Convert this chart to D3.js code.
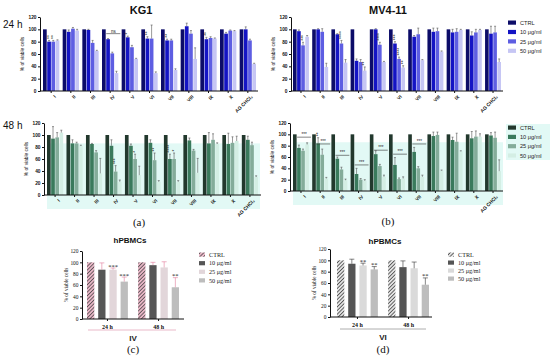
<!DOCTYPE html>
<html>
<head>
<meta charset="utf-8">
<script src="https://cdn.jsdelivr.net/npm/d3@7"></script>
<style>
  body { margin: 0; background: #fff; }
  svg { display: block; font-family: Arial, "Liberation Sans", sans-serif; }
</style>
</head>
<body>
<svg id="fig" width="550" height="358"></svg>
<script>
// ---- data ----
var groups = ['I', 'II', 'III', 'IV', 'V', 'VI', 'VII', 'VIII', 'IX', 'X', 'AG CHCl\u2083']
var doses = ['CTRL', '10 \u03bcg/ml', '25 \u03bcg/ml', '50 \u03bcg/ml']
var yTicks = [0, 20, 40, 60, 80, 100, 120]

// % viable cells, per group: [CTRL, 10, 25, 50]
var kg1_24 = [[100,80,80,82],[100,96,101,98],[100,99,78,65],[100,84,61,29],[100,87,71,52],[100,85,85,29],[100,82,82,34],[100,105,93,52],[100,84,86,85],[100,93,98,97],[100,100,82,44]]
var kg1_24_err = [[0,2,2,1],[0,3,2,2],[0,1,4,1],[0,1,2,3],[0,2,3,1],[0,3,22,2],[0,2,2,2],[0,5,5,18],[0,3,2,1],[0,2,1,1],[0,4,2,1]]
var kg1_48 = [[100,94,96,104],[100,86,86,82],[100,85,71,36],[100,82,39,22],[100,82,60,33],[100,87,58,22],[100,60,60,22],[100,91,74,37],[100,86,92,85],[100,85,87,90],[100,92,83,30]]
var kg1_48_err = [[0,20,8,4],[0,6,2,1],[0,1,3,25],[0,10,10,3],[0,3,8,15],[0,5,12,2],[0,8,10,2],[0,4,2,24],[0,18,10,2],[0,18,10,8],[0,6,5,2]]

var mv_24 = [[100,97,74,88],[100,100,96,39],[100,92,77,46],[100,49,47,33],[100,100,75,47],[100,77,52,38],[100,88,92,50],[100,96,97,64],[100,95,96,99],[100,90,95,99],[100,93,95,47]]
var mv_24_err = [[0,2,5,2],[0,1,5,6],[0,1,5,5],[0,3,4,6],[0,1,4,1],[0,3,3,3],[0,2,10,1],[0,6,5,1],[0,5,5,1],[0,6,5,1],[0,12,10,5]]
var mv_48 = [[100,76,71,82],[100,84,64,22],[100,57,38,19],[100,30,20,18],[100,65,44,25],[100,46,21,22],[100,69,40,25],[100,97,99,36],[100,90,87,70],[100,93,96,96],[100,98,94,35]]
var mv_48_err = [[0,5,3,3],[0,10,10,2],[0,3,4,2],[0,10,2,2],[0,6,3,3],[0,13,2,3],[0,8,3,3],[0,7,5,1],[0,5,15,1],[0,12,10,5],[0,5,10,20]]

// significance marks: [group, dose, label]
var kg1_24_sig = [[0,1,'**'],[0,2,'**'],[4,1,'*'],[5,1,'**'],[6,1,'**'],[8,1,'**']]
var kg1_48_sig = [[3,2,'***'],[4,2,'*'],[5,2,'**'],[6,1,'****'],[6,2,'*']]
var mv_24_sig = [[0,2,'***'],[2,2,'****'],[3,3,'**'],[4,2,'****'],[5,1,'***'],[5,2,'****'],[5,3,'**']]
var mv_48_sig = [[1,1,'**']]
// brackets over the 10..50 bars: [group, level, label]
var kg1_24_ns = [[3, 93, 'ns']]
var mv_48_brackets = [[0,95,'***'],[1,83,'***'],[2,63,'***'],[3,46,'***'],[4,72,'***'],[5,65,'***'],[6,83,'***']]

// hPBMCs panels
var times = ['24 h', '48 h']
var pbmc_iv = [[100,87,87,66],[100,95,91,56]]
var pbmc_iv_err = [[0,12,3,8],[0,5,10,17]]
var pbmc_iv_sig = [[0,2,'***'],[0,3,'***'],[1,3,'**']]
var pbmc_vi = [[100,94,91,84],[100,88,86,57]]
var pbmc_vi_err = [[0,8,4,5],[0,11,11,12]]
var pbmc_vi_sig = [[0,2,'**'],[0,3,'**'],[1,3,'**']]

var blues = ['#0c0c68', '#1414c4', '#5e5ee2', '#c6c6f4']
var greens = ['#22382d', '#3a7a5c', '#84ac9a', '#d4eee4']

var SANS = 'Arial, "Liberation Sans", sans-serif'
var SERIF = '"Liberation Serif", "Times New Roman", serif'

var svg = d3.select('#fig')
var defs = svg.append('defs')

function hatch(id, bg, fg) {
  var p = defs.append('pattern').attr('id', id)
    .attr('width', 2.6).attr('height', 2.6)
    .attr('patternUnits', 'userSpaceOnUse')
    .attr('patternTransform', 'rotate(45)')
  p.append('rect').attr('width', 2.6).attr('height', 2.6).attr('fill', bg)
  p.append('line').attr('x1', 0).attr('y1', 0).attr('x2', 0).attr('y2', 2.6)
    .attr('stroke', fg).attr('stroke-width', 1.4)
}
hatch('hatchC', '#e9b7c7', '#3a3a3a')
hatch('hatchD', '#e4e4e4', '#2e2e2e')

function panel(o) {
  var g = svg.append('g')
  var font = o.serif ? SERIF : SANS
  var y = d3.scaleLinear().domain([0, 120]).range([o.y0, o.y120])
  var x = d3.scaleBand().domain(o.groups).range([o.xa, o.xb]).paddingInner(o.pad)
  var xi = d3.scaleBand().domain(d3.range(4)).range([0, x.bandwidth()]).paddingInner(o.ipad)

  if (o.bg) {
    g.append('rect')
      .attr('x', o.xa).attr('y', y(86))
      .attr('width', o.xb - o.xa + 2).attr('height', o.y0 + 14 - y(86))
      .attr('fill', o.bg)
  }

  var tops = []
  o.groups.forEach(function(grp, gi) {
    tops[gi] = []
    o.vals[gi].forEach(function(v, di) {
      var bx = x(grp) + xi(di), bw = xi.bandwidth()
      g.append('rect')
        .attr('x', bx).attr('y', y(v))
        .attr('width', bw).attr('height', o.y0 - y(v))
        .attr('fill', o.colors[di])
      var e = o.errs[gi][di]
      tops[gi][di] = v + e
      if (e) {
        var cx = bx + bw / 2
        g.append('line').attr('x1', cx).attr('x2', cx)
          .attr('y1', y(v)).attr('y2', y(v + e))
          .attr('stroke', o.errColor || '#555').attr('stroke-width', 0.6)
        g.append('line').attr('x1', cx - o.cap).attr('x2', cx + o.cap)
          .attr('y1', y(v + e)).attr('y2', y(v + e))
          .attr('stroke', o.errColor || '#555').attr('stroke-width', 0.6)
      }
    })
  })

  // stars
  ;(o.sig || []).forEach(function(s) {
    var cx = x(o.groups[s[0]]) + xi(s[1]) + xi.bandwidth() / 2
    var ty = y(tops[s[0]][s[1]]) - 1.5
    if (o.vertStars) {
      g.append('text').attr('transform', 'translate(' + (cx + 1.6) + ',' + ty + ') rotate(-90)')
        .attr('font-size', 5).attr('fill', '#222').text(s[2])
    } else {
      g.append('text').style('font-family', SERIF).attr('x', cx).attr('y', ty + 2)
        .attr('text-anchor', 'middle').attr('font-size', 6.5).attr('fill', '#222').text(s[2])
    }
  })
  ;(o.brackets || []).forEach(function(b) {
    var grp = o.groups[b[0]]
    var x1 = x(grp) + xi(1), x2 = x(grp) + x.bandwidth() + 2
    g.append('line').attr('x1', x1).attr('x2', x2)
      .attr('y1', y(b[1])).attr('y2', y(b[1]))
      .attr('stroke', '#333').attr('stroke-width', 0.6)
    g.append('text').attr('x', (x1 + x2) / 2).attr('y', y(b[1]) - 1)
      .attr('text-anchor', 'middle').attr('font-size', 4.5).attr('fill', '#222').text(b[2])
  })

  // y axis
  var ya = g.append('g').attr('transform', 'translate(' + o.x0 + ',0)')
    .call(d3.axisLeft(y).tickValues(yTicks).tickSize(2).tickPadding(1.5).tickSizeOuter(0))
  ya.attr('font-family', font)
  ya.select('.domain').attr('stroke', '#111')
  ya.selectAll('.tick line').attr('stroke', '#111')
  ya.selectAll('text').attr('font-size', o.tickFont).attr('fill', '#111')
    .attr('font-weight', o.serif ? null : 'bold')

  // x axis
  g.append('line').attr('x1', o.x0).attr('x2', o.x1).attr('y1', o.y0).attr('y2', o.y0)
    .attr('stroke', '#111').attr('stroke-width', 1)
  var xa = g.append('g').attr('transform', 'translate(0,' + o.y0 + ')')
    .call(d3.axisBottom(x).tickSize(2).tickSizeOuter(0).tickPadding(o.serif ? 4 : 1))
  xa.attr('font-family', font)
  xa.select('.domain').remove()
  xa.selectAll('.tick line').attr('stroke', '#111')
  if (o.rotate) {
    xa.selectAll('text').attr('font-size', 4.8).attr('font-weight', 'bold').attr('fill', '#111')
      .attr('text-anchor', 'end').attr('dy', '0.3em')
      .attr('transform', 'translate(2,3) rotate(-45)')
  } else {
    xa.selectAll('text').attr('font-size', 6).attr('font-weight', 'bold').attr('fill', '#111')
  }

  // y title
  g.append('text')
    .attr('transform', 'translate(' + (o.x0 - o.titleOff) + ',' + (o.y0 + o.y120) / 2 + ') rotate(-90)')
    .attr('text-anchor', 'middle').attr('font-size', o.serif ? 5.2 : 4.8).attr('fill', '#222')
    .attr('font-family', font)
    .text('% of viable cells')
  return g
}

function legend(lx, ly, step, colors, serif, sw) {
  var g = svg.append('g').attr('font-family', serif ? SERIF : SANS)
  doses.forEach(function(d, i) {
    g.append('rect').attr('x', lx).attr('y', ly + i * step - 2.5)
      .attr('width', sw).attr('height', 4.2).attr('fill', colors[i])
    g.append('text').attr('x', lx + sw + 4).attr('y', ly + i * step + 1.8)
      .attr('font-size', serif ? 6.2 : 5.6).attr('fill', '#222')
      .text(d)
  })
}

// ---- panel (a) KG1 / panel (b) MV4-11 ----
panel({ groups: groups, vals: kg1_24, errs: kg1_24_err, colors: blues, sig: kg1_24_sig,
  x0: 40, x1: 258, xa: 43, xb: 256, y0: 91, y120: 17, pad: 0.17, ipad: 0.12, cap: 1,
  rotate: true, tickFont: 4.8, titleOff: 16, vertStars: true, brackets: kg1_24_ns })
panel({ groups: groups, vals: kg1_48, errs: kg1_48_err, colors: greens, sig: kg1_48_sig, bg: '#e2f9f5',
  x0: 44, x1: 261, xa: 47, xb: 258, y0: 195, y120: 123, pad: 0.17, ipad: 0.12, cap: 1,
  rotate: true, tickFont: 4.8, titleOff: 16, vertStars: true })
panel({ groups: groups, vals: mv_24, errs: mv_24_err, colors: blues, sig: mv_24_sig,
  x0: 291, x1: 503, xa: 293, xb: 501, y0: 91, y120: 17, pad: 0.17, ipad: 0.12, cap: 1,
  rotate: true, tickFont: 4.8, titleOff: 16, vertStars: true })
panel({ groups: groups, vals: mv_48, errs: mv_48_err, colors: greens, sig: mv_48_sig, bg: '#e2f9f5',
  brackets: mv_48_brackets,
  x0: 290, x1: 503, xa: 293, xb: 501, y0: 191, y120: 123, pad: 0.17, ipad: 0.12, cap: 1,
  rotate: true, tickFont: 4.8, titleOff: 16, vertStars: true })

svg.append('rect').attr('x', 506).attr('y', 124).attr('width', 44).attr('height', 36).attr('fill', '#e2f9f5')
legend(508, 23, 9.4, blues, false, 8)
legend(508, 128, 9.3, greens, false, 8)

svg.append('text').attr('x', 141).attr('y', 14).attr('text-anchor', 'middle')
  .attr('font-size', 11).attr('font-weight', 'bold').attr('fill', '#111').text('KG1')
svg.append('text').attr('x', 388).attr('y', 14).attr('text-anchor', 'middle')
  .attr('font-size', 11).attr('font-weight', 'bold').attr('fill', '#111').text('MV4-11')
svg.append('text').attr('x', 3).attr('y', 28).attr('font-size', 10).attr('fill', '#111').text('24 h')
svg.append('text').attr('x', 3).attr('y', 129).attr('font-size', 10).attr('fill', '#111').text('48 h')
svg.append('text').attr('font-family', SERIF).attr('x', 139).attr('y', 226).attr('text-anchor', 'middle')
  .attr('font-size', 11).attr('fill', '#111').text('(a)')
svg.append('text').attr('font-family', SERIF).attr('x', 388).attr('y', 225).attr('text-anchor', 'middle')
  .attr('font-size', 11).attr('fill', '#111').text('(b)')

// ---- panels (c) and (d) hPBMCs ----
var greyC = ['url(#hatchC)', '#565656', '#e2d6da', '#bdbdbd']
var greyD = ['url(#hatchD)', '#555555', '#dadada', '#bdbdbd']
panel({ groups: times, vals: pbmc_iv, errs: pbmc_iv_err, colors: greyC, sig: pbmc_iv_sig, errColor: '#e07a9a',
  x0: 82, x1: 184, xa: 87, xb: 179, y0: 319, y120: 251, pad: 0.2, ipad: 0.35, cap: 2.5,
  serif: true, tickFont: 5.4, titleOff: 14 })
panel({ groups: times, vals: pbmc_vi, errs: pbmc_vi_err, colors: greyD, sig: pbmc_vi_sig, errColor: '#333',
  x0: 330, x1: 432, xa: 337, xb: 429, y0: 317, y120: 249, pad: 0.2, ipad: 0.35, cap: 2.5,
  serif: true, tickFont: 5.4, titleOff: 14 })
legend(199, 255, 8.6, greyC, true, 6)
legend(448, 255, 8, greyD, true, 6)

svg.append('line').attr('x1', 88).attr('x2', 176).attr('y1', 330).attr('y2', 330)
  .attr('stroke', '#e5a7bb').attr('stroke-width', 0.8)
svg.append('line').attr('x1', 340).attr('x2', 426).attr('y1', 329).attr('y2', 329)
  .attr('stroke', '#999').attr('stroke-width', 0.8)

svg.append('text').attr('x', 130).attr('y', 243).attr('text-anchor', 'middle')
  .attr('font-size', 8).attr('font-weight', 'bold').attr('fill', '#111').text('hPBMCs')
svg.append('text').attr('x', 385).attr('y', 244).attr('text-anchor', 'middle')
  .attr('font-size', 8).attr('font-weight', 'bold').attr('fill', '#111').text('hPBMCs')
svg.append('text').attr('x', 133).attr('y', 341).attr('text-anchor', 'middle')
  .attr('font-size', 8).attr('font-weight', 'bold').attr('fill', '#222').text('IV')
svg.append('text').attr('x', 383).attr('y', 340).attr('text-anchor', 'middle')
  .attr('font-size', 8).attr('font-weight', 'bold').attr('fill', '#222').text('VI')
svg.append('text').attr('font-family', SERIF).attr('x', 133).attr('y', 353).attr('text-anchor', 'middle')
  .attr('font-size', 11).attr('fill', '#111').text('(c)')
svg.append('text').attr('font-family', SERIF).attr('x', 383).attr('y', 353).attr('text-anchor', 'middle')
  .attr('font-size', 11).attr('fill', '#111').text('(d)')
</script>
</body>
</html>
